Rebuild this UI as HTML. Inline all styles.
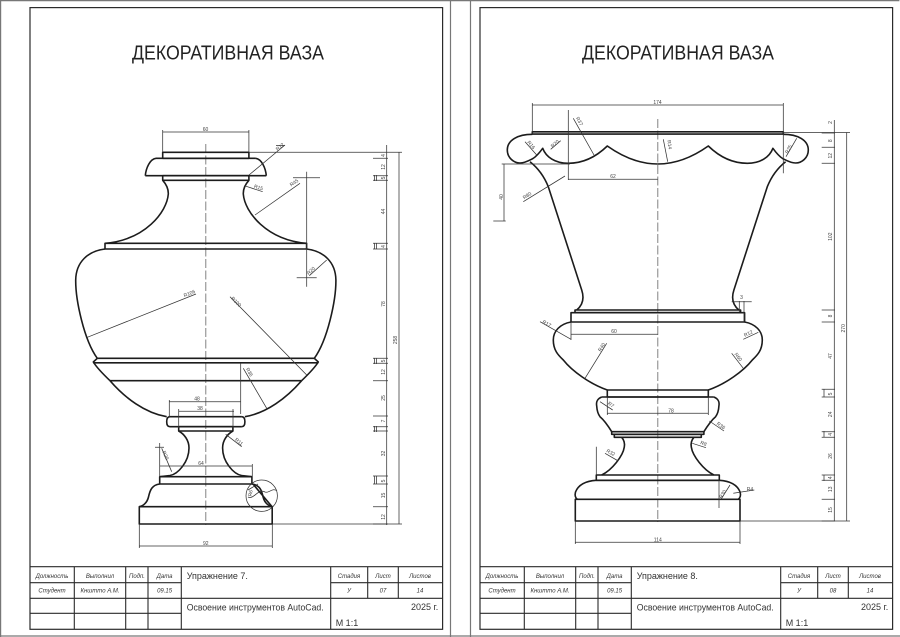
<!DOCTYPE html>
<html lang="ru"><head><meta charset="utf-8"><title>Декоративная ваза</title>
<style>
html,body{margin:0;padding:0;background:#fff;width:900px;height:637px;overflow:hidden}
svg{display:block}
text{font-family:"Liberation Sans",sans-serif}
.th{fill:none;stroke:#1c1c1c;stroke-width:1.6;stroke-linejoin:round}
.tn{fill:none;stroke:#333;stroke-width:.75}
.ax{fill:none;stroke:#777;stroke-width:.9;stroke-dasharray:9 2.5}
.o{fill:none;stroke:#777;stroke-width:1.2}
.f{fill:none;stroke:#2b2b2b;stroke-width:1.2}
.b{fill:none;stroke:#2b2b2b;stroke-width:1.1}
.d{font-size:5px;fill:#444;text-anchor:middle}
.t{font-size:20px;fill:#222}
.s{font-size:6px;font-style:italic;fill:#333;text-anchor:middle}
.m{font-size:9px;fill:#333}
</style></head><body>
<svg width="900" height="637" viewBox="0 0 900 637" xmlns="http://www.w3.org/2000/svg">
<path class="o" d="M.6 637V.6H899.4M450.5 0V637M470.5 0V637M0 636H900"/>
<rect class="f" x="30" y="7.6" width="412.6" height="621.7"/>
<rect class="f" x="480" y="7.6" width="412.6" height="621.7"/>
<text class="t" x="132" y="59.3" textLength="192" lengthAdjust="spacingAndGlyphs">ДЕКОРАТИВНАЯ ВАЗА</text>
<text class="t" x="582" y="59.3" textLength="192" lengthAdjust="spacingAndGlyphs">ДЕКОРАТИВНАЯ ВАЗА</text>

<!-- Title blocks -->
<path class="b" d="M30 566.7H442.6M30 582.7H181.3M330.7 582.7H442.6M30 598.3H442.6M30 613.3H181.3M74.3 566.7V629.3M125.7 566.7V629.3M148 566.7V629.3M181.3 566.7V629.3M330.7 566.7V629.3M367.7 566.7V598.3M398.3 566.7V598.3"/>
<path class="b" d="M480 566.7H892.6M480 582.7H631.3M780.7 582.7H892.6M480 598.3H892.6M480 613.3H631.3M524.3 566.7V629.3M575.7 566.7V629.3M598 566.7V629.3M631.3 566.7V629.3M780.7 566.7V629.3M817.7 566.7V598.3M848.3 566.7V598.3"/>
<g class="s">
<text x="52" y="578">Должность</text><text x="100" y="578">Выполнил</text><text x="137" y="578">Подп.</text><text x="164.6" y="578">Дата</text><text x="349" y="578">Стадия</text><text x="383" y="578">Лист</text><text x="420" y="578">Листов</text>
<text x="52" y="592.5">Студент</text><text x="100" y="592.5">Кнштто А.М.</text><text x="164.6" y="592.5">09.15</text><text x="349" y="592.5">У</text><text x="383" y="592.5">07</text><text x="420" y="592.5">14</text>
<text x="502" y="578">Должность</text><text x="550" y="578">Выполнил</text><text x="587" y="578">Подп.</text><text x="614.6" y="578">Дата</text><text x="799" y="578">Стадия</text><text x="833" y="578">Лист</text><text x="870" y="578">Листов</text>
<text x="502" y="592.5">Студент</text><text x="550" y="592.5">Кнштто А.М.</text><text x="614.6" y="592.5">09.15</text><text x="799" y="592.5">У</text><text x="833" y="592.5">08</text><text x="870" y="592.5">14</text>
</g>
<g class="m">
<text x="186.7" y="579">Упражнение 7.</text><text x="186.7" y="610.5" textLength="137" lengthAdjust="spacingAndGlyphs">Освоение инструментов AutoCad.</text><text x="411" y="610">2025 г.</text><text x="335.7" y="626">М 1:1</text>
<text x="636.7" y="579">Упражнение 8.</text><text x="636.7" y="610.5" textLength="137" lengthAdjust="spacingAndGlyphs">Освоение инструментов AutoCad.</text><text x="861" y="610">2025 г.</text><text x="785.7" y="626">М 1:1</text>
</g>

<!-- Vase 7 -->
<path class="ax" d="M205.8 144V525"/>
<g id="h7" class="th">
<path d="M156 158.3C150 159 146 168 145.3 175.7"/>
<path d="M162.7 180.3C166 184 168.5 189 168.3 194C167 212 145 240 105 243.3"/>
<path d="M105 249C88 251 76 262 75.7 280C75.5 300 84 340 97.3 358.3"/>
<path d="M97.3 358.3L93.3 362C97 368 103 374 110 380.7"/>
<path d="M110 380.7C125 398 145 413 166.7 416.7"/>
<path d="M170 416.7Q166.7 416.7 166.7 421.7Q166.7 426.7 170 426.7"/>
<path d="M178.7 431C184 434 189 440 189 448C189 462 178 474 170 475.5L160 476.7"/>
<path d="M159.7 484C152 485 150 490 148.5 497C147 503 143 506 139.3 506.7"/>
</g>
<use href="#h7" transform="translate(411.6 0) scale(-1 1)"/>
<g class="th">
<rect x="162.7" y="152.3" width="86.2" height="6"/>
<path d="M156 158.3H255.6M145.3 175.7H266.3"/>
<rect x="162.7" y="175.7" width="86.2" height="4.6"/>
<rect x="105" y="243.3" width="201.6" height="5.7"/>
<path d="M97.3 358.3H314.3M93.3 362.8H318.3M110 380.7H301.6M170 416.7H241.6M170 426.7H241.6"/>
<rect x="178.7" y="426.7" width="54.2" height="4.3"/>
<rect x="159.7" y="476.7" width="92.2" height="7.3"/>
<rect x="139.3" y="506.7" width="132.9" height="17.3"/>
</g>
<g class="tn">
<path d="M162.7 152V130M248.9 152V130M162.7 132H248.9"/>
<path d="M249 175L285 145M276 145.500H285M244.300 185.700L262.700 191.700"/>
<path d="M255 215L300 183.300M306.700 171.700V286.700M293 177.700H320M296.700 277.700H316.700"/>
<path d="M326.700 260L309.300 275.700M87.300 337.300L196 294M230 296.700L306.700 375"/>
<path d="M240.700 363.300V414M266.700 408.300L243.300 368.300M169.300 401.700H240.700M169.300 400V416.700M178.700 411.300H234M178.700 409V428M233 409V428"/>
<path d="M159.700 466H252.300M159.700 443V476.700M252.300 464V476.700M155 447.300H164M171.700 471.700L161.700 448.300M225.700 434.300L241.700 446.700"/>
<path d="M139.300 524V548M272.300 524V548M139.300 546H272.300"/>
<circle cx="261.700" cy="495.700" r="15.700"/>
<path d="M248 497C254 500 258 488 265 492C268 494 273 487 277 491M248 490L258 484"/>
</g>
<path class="th" d="M253 484L272 506.700"/>
<path class="tn" d="M248.900 152.300H402M272.300 524H402M399 152.300V524M386.700 145V525"/>
<path class="tn" d="M373 158.300H388M373 175.700H388M373 180.300H388M373 243.300H388M373 249H388M373 358.300H388M373 363.300H388M373 380.700H388M373 416H388M373 426.700H388M373 431H388M373 476H388M373 484H388M373 506.700H388M373 524H388M374.500 175V181M376.500 175V181M374.500 243V249M376.500 243V249M374.500 358V364M376.500 358V364M374.500 426V432M376.500 426V432M374.500 476V484M376.500 476V484"/>
<g class="d">
<text x="205.500" y="131">60</text>
<text transform="translate(281 148) rotate(-40)">R12</text>
<text transform="translate(258 189) rotate(18)">R15</text>
<text transform="translate(295 184) rotate(-35)">R45</text>
<text transform="translate(312 272) rotate(-42)">R20</text>
<text transform="translate(190 295) rotate(-22)">R106</text>
<text transform="translate(235 303) rotate(45)">R100</text>
<text transform="translate(248 373) rotate(60)">R36</text>
<text x="197" y="400.500">48</text>
<text x="200" y="410">38</text>
<text x="201" y="465">64</text>
<text transform="translate(164 456) rotate(66)">R20</text>
<text transform="translate(238 443) rotate(38)">R11</text>
<text x="205.800" y="545">92</text>
<text transform="translate(252 493.500) rotate(-80)">R6</text>
<text transform="translate(385 155.500) rotate(-90)">4</text>
<text transform="translate(385 167) rotate(-90)">12</text>
<text transform="translate(385 178) rotate(-90)">5</text>
<text transform="translate(385 211.500) rotate(-90)">44</text>
<text transform="translate(385 246.500) rotate(-90)">4</text>
<text transform="translate(385 304) rotate(-90)">78</text>
<text transform="translate(385 361) rotate(-90)">5</text>
<text transform="translate(385 372) rotate(-90)">12</text>
<text transform="translate(385 398) rotate(-90)">25</text>
<text transform="translate(385 421) rotate(-90)">7</text>
<text transform="translate(385 453.500) rotate(-90)">32</text>
<text transform="translate(385 481) rotate(-90)">5</text>
<text transform="translate(385 495.500) rotate(-90)">15</text>
<text transform="translate(385 517) rotate(-90)">12</text>
<text transform="translate(397 340) rotate(-90)">258</text>
</g>

<!-- Vase 8 -->
<path class="ax" d="M657.800 119V522"/>
<g id="h8" class="th">
<path d="M532.300 134.300C518 134.300 507.300 140 507.300 150C507.300 158 514 163 520 163C525 163 530 160 533 158.500C537 156 540 152 542.700 148.300C546 157 555 163.300 568.300 163.300C585 163.300 598 155 607.300 146C620 155 638 164 657.800 164"/>
<path d="M530 161.700C538 168 544 176 548.300 186.700L581.700 290C584 297 584 304 576.700 310"/>
<path d="M571 322C560 324 553.300 331 553.300 340C553.300 350 558 355 563.300 360C572 371 590 384 607.300 390"/>
<path d="M601.700 397C597 399 596 402 596.700 406C597 411 598 414 600 416.700C604 420 607 424 611.700 431.700"/>
<path d="M621.700 437.300C624 440 625 443 624.300 447C623 456 612 470 601.700 475"/>
<path d="M596.300 480.300C585 481 578.300 485 575.500 492C574.500 496 575.500 498 577.300 499.300"/>
</g>
<use href="#h8" transform="translate(1315.600 0) scale(-1 1)"/>
<g class="th">
<rect x="532.300" y="131.800" width="251" height="2.300"/>
<rect x="575" y="310" width="165.600" height="2.700"/>
<rect x="571" y="312.700" width="173.600" height="9.300"/>
<rect x="607.300" y="390" width="101" height="7"/>
<path d="M601.700 397H713.900"/>
<rect x="611.700" y="431.700" width="92.200" height="2.600"/>
<rect x="614.300" y="434.300" width="87" height="3"/>
<rect x="596.300" y="475" width="123" height="5.300"/>
<rect x="575.300" y="499.300" width="164.700" height="21.700"/>
<path d="M596.300 480.300H719.300"/>
</g>
<g class="tn">
<path d="M532.300 103V134M783.300 103V173.300M532.300 105H783.300"/>
<path d="M568.300 110V180M568.300 179.300H657.800"/>
<path d="M594 155L573.300 118.300M667.700 161.700L663.300 139.300M536.700 155L525 141.700M550.700 149.300L560.700 140.700M786 156.700L796.700 138.300M523.300 201.700L565 176"/>
<path d="M501.700 164H570M504 164V221M493.300 221H505.700"/>
<path d="M731.700 301.700H751.700M739.300 301V312M744 301V322"/>
<path d="M571 322V340M571 334.300H657.800M540 321.700L571 339.300M585 378.300L606.700 343.300M758.300 332.300L743.300 339.300M743.300 368.300L731.700 353.300"/>
<path d="M607.300 413.300H708.300M607.300 397V415M708.300 397V415M600 401.700L612.700 410M709.300 421L724 431M692.300 443.300L706 447.700M618.300 461L605 453.300M596.300 446.700V475"/>
<path d="M730 485L721 499.300M719 480V508M733.300 493.300L754.300 490"/>
<path d="M575.300 521V544M740 521V544M575.300 542.300H740"/>
<path d="M783.300 132.500H850M740 521H850M846.700 132.500V521M834.300 120V521"/>
<path d="M821.700 133H835M821.700 147.300H835M821.700 163.300H835M821.700 310H835M821.700 322H835M821.700 389.300H835M821.700 397H835M821.700 431.700H835M821.700 437.300H835M821.700 475H835M821.700 480.300H835M821.700 499.300H835M821.700 521H835M824 389V397M824 431V437M824 475V481"/>
</g>
<g class="d">
<text x="657.500" y="104">174</text>
<text x="613" y="178">62</text>
<text transform="translate(578 122) rotate(61)">R37</text>
<text transform="translate(668 145) rotate(80)">R14</text>
<text transform="translate(530 146) rotate(50)">R16</text>
<text transform="translate(556 145) rotate(-40)">R20</text>
<text transform="translate(790 150) rotate(-60)">R25</text>
<text transform="translate(528 197) rotate(-32)">R80</text>
<text transform="translate(503 197) rotate(-90)">40</text>
<text x="741.500" y="299">3</text>
<text x="614" y="333">60</text>
<text transform="translate(546 325) rotate(30)">R17</text>
<text transform="translate(603 348) rotate(-58)">R40</text>
<text transform="translate(749 335) rotate(-25)">R12</text>
<text transform="translate(737 358) rotate(52)">R60</text>
<text x="671" y="412.500">78</text>
<text transform="translate(610 406) rotate(35)">R7</text>
<text transform="translate(720 427) rotate(34)">R36</text>
<text transform="translate(703 445) rotate(20)">R8</text>
<text transform="translate(610 454) rotate(30)">R32</text>
<text transform="translate(724 495) rotate(-58)">R30</text>
<text x="750" y="491">R4</text>
<text x="657.800" y="541.500">114</text>
<text transform="translate(832 122.500) rotate(-90)">2</text>
<text transform="translate(832 140.700) rotate(-90)">8</text>
<text transform="translate(832 155.700) rotate(-90)">12</text>
<text transform="translate(832 236.700) rotate(-90)">102</text>
<text transform="translate(832 316) rotate(-90)">8</text>
<text transform="translate(832 356) rotate(-90)">47</text>
<text transform="translate(832 394) rotate(-90)">5</text>
<text transform="translate(832 414.300) rotate(-90)">24</text>
<text transform="translate(832 434.300) rotate(-90)">4</text>
<text transform="translate(832 456) rotate(-90)">26</text>
<text transform="translate(832 477.700) rotate(-90)">4</text>
<text transform="translate(832 489.300) rotate(-90)">13</text>
<text transform="translate(832 510) rotate(-90)">15</text>
<text transform="translate(845 328.300) rotate(-90)">270</text>
</g>
</svg>
</body></html>
